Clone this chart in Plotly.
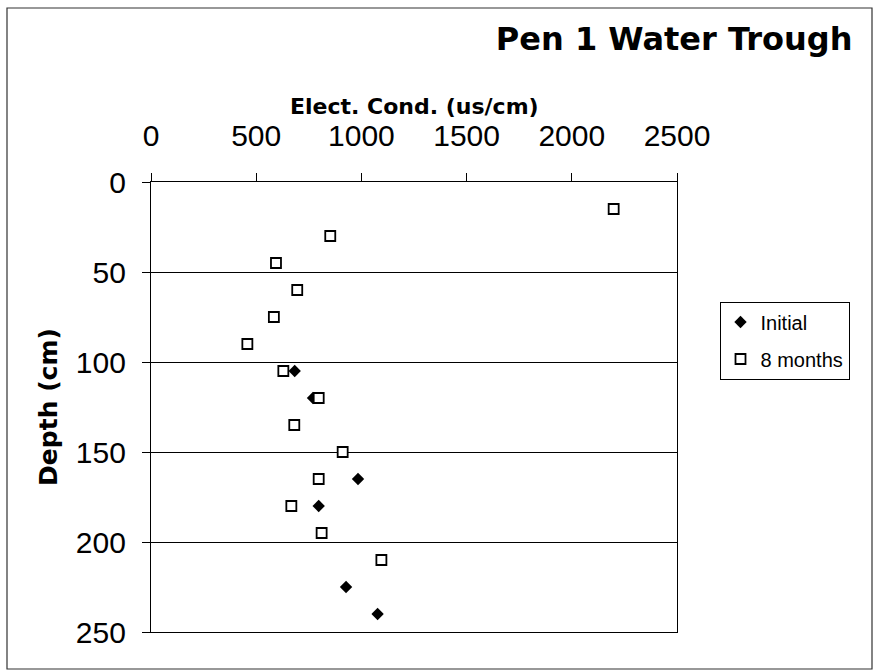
import plotly.graph_objects as go

# Data
initial_depth = [105, 120, 165, 180, 225, 240]
initial_ec = [683, 770, 984, 797, 927, 1077]

months8_depth = [15, 30, 45, 60, 75, 90, 105, 120, 135, 150, 165, 180, 195, 210]
months8_ec = [2199, 852, 594, 695, 584, 458, 629, 797, 681, 911, 797, 667, 811, 1095]

x_ticks = [0, 500, 1000, 1500, 2000, 2500]
y_ticks = [0, 50, 100, 150, 200, 250]

W, H = 877, 672
L, R, T, B = 151, 200, 182, 40
PW, PH = W - L - R, H - T - B

fig = go.Figure()
fig.add_trace(go.Scatter(
    x=initial_ec, y=initial_depth, mode="markers", name="Initial",
    legendgroup="a",
    marker=dict(symbol="diamond", size=9.5, color="black", line=dict(width=0)),
))
fig.add_trace(go.Scatter(
    x=months8_ec, y=months8_depth, mode="markers", name="8 months",
    legendgroup="b",
    marker=dict(symbol="square", size=10, color="white",
                line=dict(width=1.8, color="black")),
))

tickfont = dict(family="Liberation Sans, Arial, sans-serif", size=30, color="black")
boldfont = dict(family="DejaVu Sans, sans-serif", color="black", weight="bold")

fig.update_layout(
    width=W, height=H, autosize=False,
    margin=dict(l=L, r=R, t=T, b=B, pad=0),
    paper_bgcolor="white", plot_bgcolor="white",
    showlegend=True,
    title=dict(
        text="Pen 1 Water Trough",
        font=dict(**boldfont, size=32),
        xref="container", yref="container",
        x=852.5 / W, xanchor="right",
        y=1 - 39 / H, yanchor="middle",
    ),
    legend=dict(
        x=(719.5 - L) / PW, y=(H - B - 301.5) / PH,
        xanchor="left", yanchor="top",
        bordercolor="black", borderwidth=1, bgcolor="white",
        font=dict(family="Liberation Sans, Arial, sans-serif", size=20, color="black"),
        tracegroupgap=8, itemwidth=30,
    ),
    xaxis=dict(
        side="top", range=[0, 2500], tickvals=x_ticks,
        ticktext=[str(v) for v in x_ticks],
        ticks="outside", ticklen=8, tickcolor="black", tickwidth=1,
        tickfont=tickfont, ticklabelstandoff=15,
        showline=True, linecolor="black", linewidth=1.3, mirror=True,
        showgrid=False, zeroline=False,
    ),
    yaxis=dict(
        range=[250, 0], tickvals=y_ticks,
        ticktext=[str(v) for v in y_ticks],
        ticks="outside", ticklen=8, tickcolor="black", tickwidth=1,
        tickfont=tickfont, ticklabelstandoff=10,
        showline=True, linecolor="black", linewidth=1.3, mirror=True,
        showgrid=True, gridcolor="black", gridwidth=1,
        zeroline=False,
        title=dict(text="Depth (cm)", font=dict(**boldfont, size=25), standoff=11),
    ),
)

# X axis title (placed above the top tick labels)
fig.add_annotation(
    text="Elect. Cond. (us/cm)", xref="paper", yref="paper",
    x=0.5, y=(H - B - 107) / PH, xanchor="center", yanchor="middle",
    showarrow=False, font=dict(**boldfont, size=22),
)

# Outer chart frame
fig.add_shape(
    type="rect", xref="paper", yref="paper",
    x0=(7 - L) / PW, x1=(872 - L) / PW,
    y0=(H - B - 669) / PH, y1=(H - B - 8) / PH,
    line=dict(color="#333333", width=1.2), fillcolor="rgba(0,0,0,0)", layer="below",
)

fig.write_html(
    "out.html",
    config={"displayModeBar": False},
    post_script="document.body.style.margin='0';document.body.style.overflow='hidden';",
)
